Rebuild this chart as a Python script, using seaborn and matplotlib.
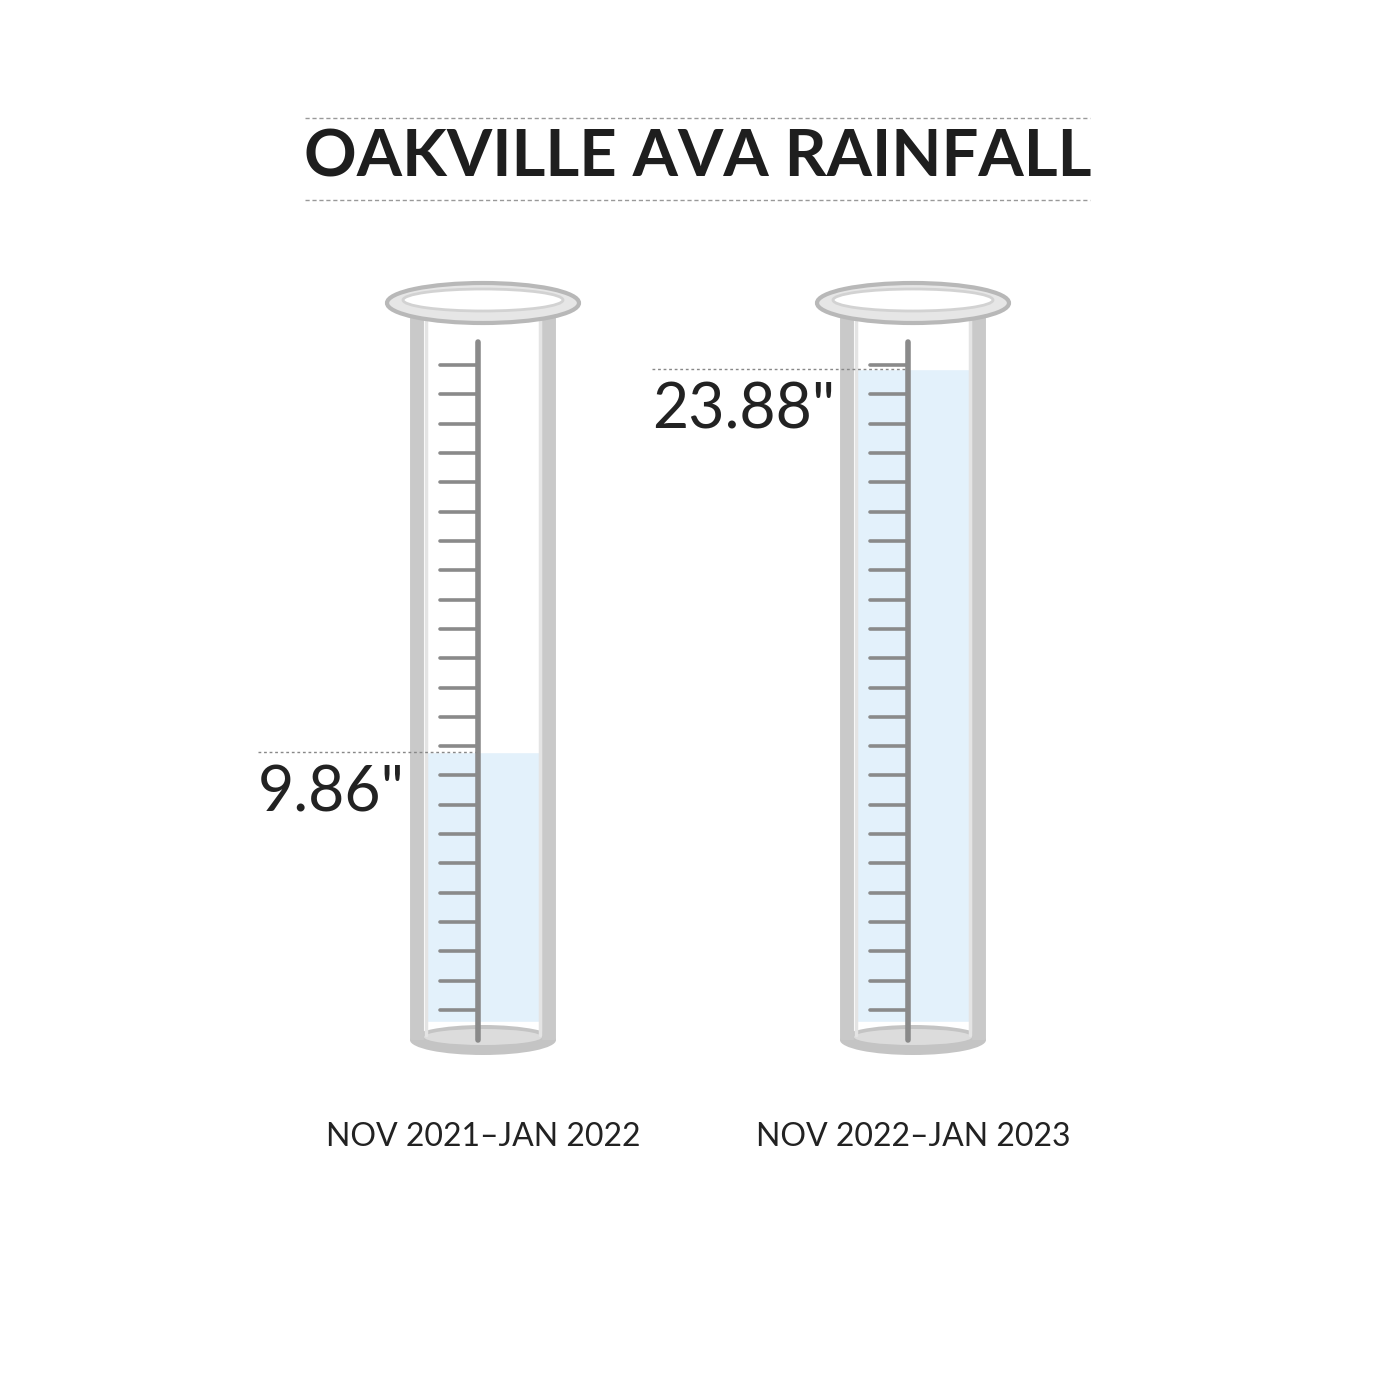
import matplotlib
matplotlib.use("Agg")
import matplotlib.pyplot as plt
import seaborn as sns
import pandas as pd
from matplotlib.patches import Ellipse

sns.set_theme(style="white")
plt.rcParams['font.family'] = ['Lato', 'DejaVu Sans']

periods = ["NOV 2021\u2013JAN 2022", "NOV 2022\u2013JAN 2023"]
rainfall = [9.86, 23.88]
value_labels = ['9.86"', '23.88"']
title = "OAKVILLE AVA RAINFALL"

df = pd.DataFrame({"period": periods, "rain": rainfall})

W = 1394
fig = plt.figure(figsize=(13.94, 13.94), dpi=100)
fig.patch.set_facecolor("white")
Y0 = 1022.0          # pixel row of 0 inches
PPI = 27.35          # pixels per inch of rain
XS = 430.0           # pixels per category unit
XC0 = 483.0          # pixel column of first category
ax = fig.add_axes([0, 0, 1, 1])

def dy(py):  # pixel row -> data y
    return (Y0 - py) / PPI

sns.barplot(data=df, x="period", y="rain", ax=ax, color="#e3f1fb",
            width=116 / XS, saturation=1, zorder=2)
ax.set_xlim(-XC0 / XS, (W - XC0) / XS)
ax.set_ylim(dy(W), dy(0))
ax.axis("off")

for i, (v, lab) in enumerate(zip(rainfall, value_labels)):
    ax.add_patch(Ellipse((i, dy(1040)), 146 / XS, 30 / PPI, facecolor="#c4c4c4",
                         edgecolor="none", zorder=1))
    ax.add_patch(Ellipse((i, dy(1037)), 118 / XS, 16 / PPI, facecolor="#dcdcdc",
                         edgecolor="none", zorder=2.5))
    for sx in (-1, 1):
        ax.plot([i + sx * 66 / XS] * 2, [dy(1040), dy(310)], color="#c9c9c9",
                lw=10, solid_capstyle="butt", zorder=3)
        ax.plot([i + sx * 57 / XS] * 2, [dy(1035), dy(318)], color="#e4e4e4",
                lw=2.5, zorder=3)
    ax.add_patch(Ellipse((i, dy(303)), 192 / XS, 40 / PPI, facecolor="#e6e6e6",
                         edgecolor="#b8b8b8", lw=3, zorder=4))
    ax.add_patch(Ellipse((i, dy(300)), 160 / XS, 22 / PPI, facecolor="white",
                         edgecolor="#d2d2d2", lw=2, zorder=4))
    sx = i - 5 / XS
    ax.plot([sx, sx], [dy(1040), dy(342)], color="#8a8a8a", lw=4,
            solid_capstyle="round", zorder=5)
    for k in range(23):
        py = 365 + k * (1010 - 365) / 22
        ax.plot([sx - 38 / XS, sx], [dy(py), dy(py)], color="#8a8a8a", lw=2.6,
                zorder=5)
    lx0 = -225 / XS if i == 0 else -261 / XS
    ax.plot([i + lx0, sx], [v, v], color="#888888", lw=1, ls=(0, (2, 2)), zorder=6)
    ax.text(i - 78 / XS, v - 0.45, lab, ha="right", va="top", fontsize=45,
            fontweight="normal", color="#222222", zorder=6)
    ax.text(i, dy(1137), periods[i], ha="center", va="center", fontsize=23,
            fontweight="normal", color="#222222")

fig.text(698 / W, 1 - 158 / W, title, ha="center", va="center", fontsize=47,
         fontweight="bold", color="#1e1e1e")
for py in (118, 200):
    fig.add_artist(plt.Line2D([305 / W, 1090 / W], [1 - py / W] * 2,
                              color="#999999", lw=1, ls=(0, (3, 2))))

fig.savefig("out.png", dpi=100, facecolor="white")
